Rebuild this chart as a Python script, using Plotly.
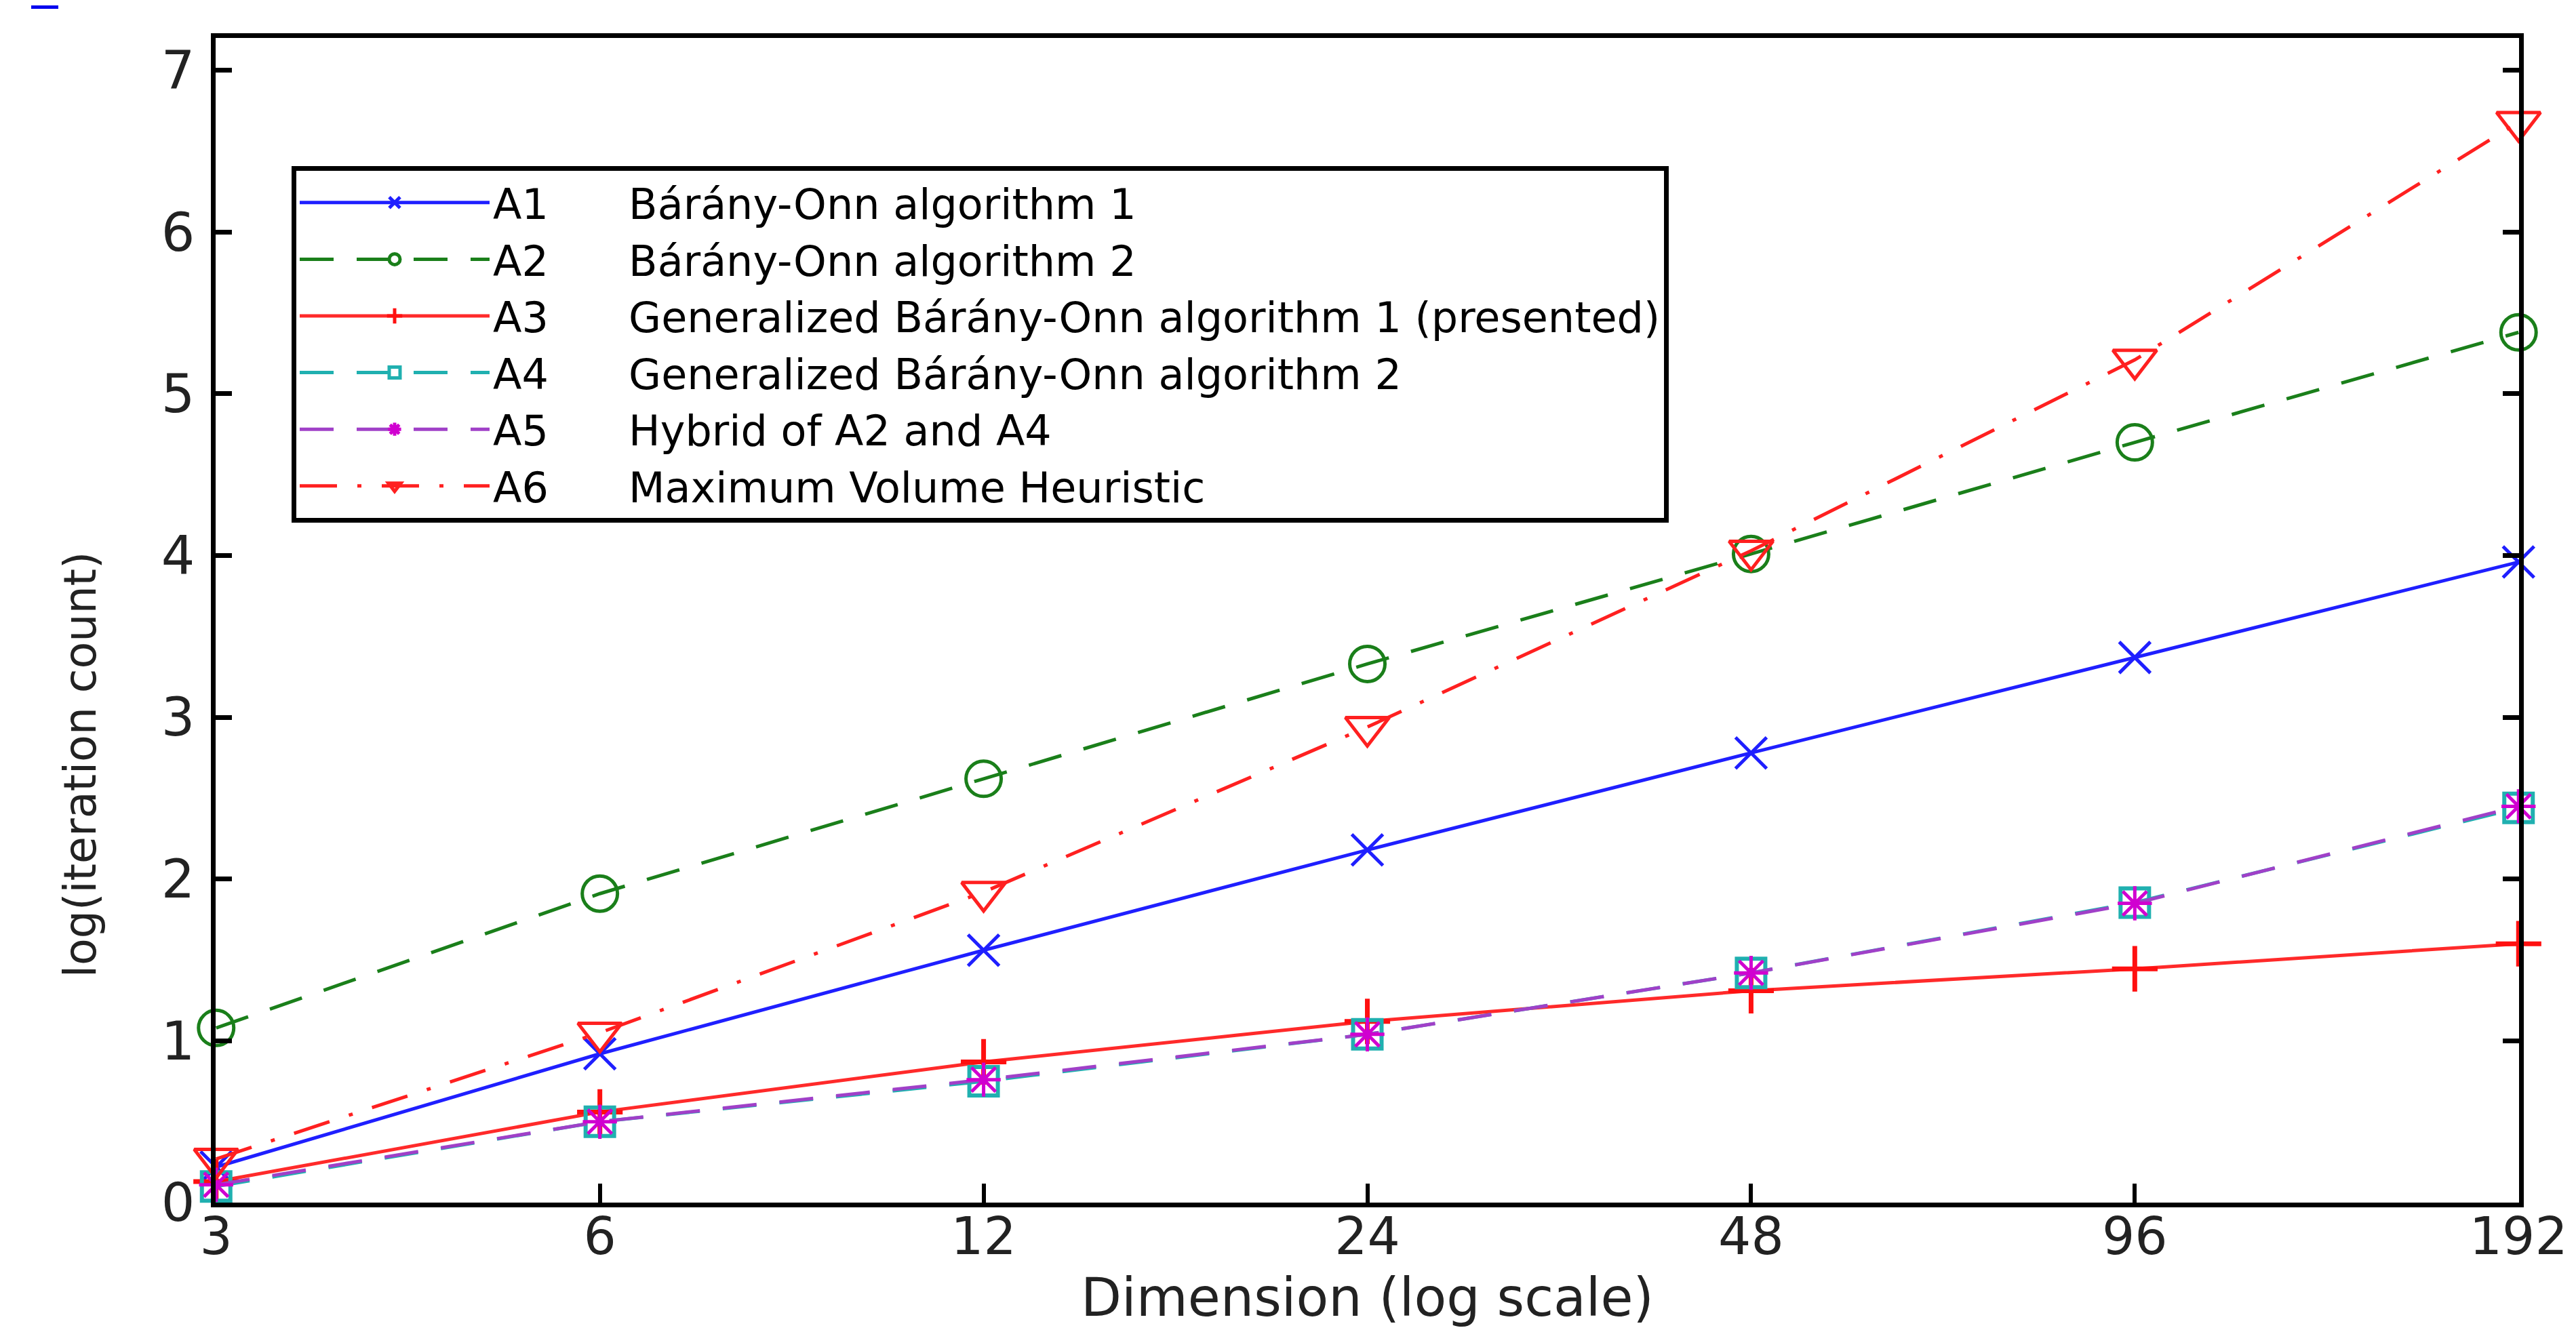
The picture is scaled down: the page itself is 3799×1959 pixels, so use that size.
import plotly.graph_objects as go
import math

# ---- data ----
dims = [3, 6, 12, 24, 48, 96, 192]
tick_labels = ["3", "6", "12", "24", "48", "96", "192"]
A1 = [0.22, 0.92, 1.56, 2.18, 2.78, 3.37, 3.96]
A2 = [1.08, 1.91, 2.62, 3.33, 4.01, 4.70, 5.38]
A3 = [0.13, 0.56, 0.87, 1.12, 1.31, 1.445, 1.60]
A4 = [0.10, 0.50, 0.75, 1.04, 1.42, 1.855, 2.44]
A5 = [0.11, 0.50, 0.76, 1.04, 1.42, 1.85, 2.45]
A6 = [0.27, 1.05, 1.92, 2.94, 4.03, 5.21, 6.68]
codes = ["A1", "A2", "A3", "A4", "A5", "A6"]
names = ["Bárány-Onn algorithm 1",
         "Bárány-Onn algorithm 2",
         "Generalized Bárány-Onn algorithm 1 (presented)",
         "Generalized Bárány-Onn algorithm 2",
         "Hybrid of A2 and A4",
         "Maximum Volume Heuristic"]
y_ticks = [0, 1, 2, 3, 4, 5, 6, 7]

FONT = "DejaVu Sans"
W, H = 3799, 1959
L, R, T, B = 310, 92, 48, 193
PW, PH = W - L - R, H - B - T

styles = [
    dict(color="#1f1fff", dash="solid", symbol="x-thin-open", size=46, mcolor="#1f1fff", mw=5),
    dict(color="#1a7f1a", dash="50px,34px", symbol="circle-open", size=52, mcolor="#1a7f1a", mw=5),
    dict(color="#ff2a2a", dash="solid", symbol="cross-thin-open", size=48, mcolor="#ff1010", mw=7),
    dict(color="#20b0b0", dash="50px,34px", symbol="square-open", size=42, mcolor="#20b0b0", mw=6),
    dict(color="#a040c8", dash="50px,34px", symbol="asterisk-open", size=42, mcolor="#d000d0", mw=5),
    dict(color="#ff2020", dash="55px,30px,6px,30px", symbol="triangle-down-open", size=56, mcolor="#ff2020", mw=5),
]
series = [A1, A2, A3, A4, A5, A6]

fig = go.Figure()
sp = "\u00a0" * 6
for code, nm, ys, st in zip(codes, names, series, styles):
    fig.add_trace(go.Scatter(
        x=dims, y=ys, mode="lines+markers",
        name=f"{code}{sp}{nm}",
        line=dict(color=st["color"], width=5, dash=st["dash"]),
        marker=dict(symbol=st["symbol"], size=st["size"],
                    color=st["mcolor"], line=dict(color=st["mcolor"], width=st["mw"])),
        cliponaxis=False,
    ))

fig.update_layout(
    width=W, height=H,
    margin=dict(l=L, r=R, t=T, b=B),
    paper_bgcolor="white", plot_bgcolor="white",
    font=dict(family=FONT, color="black", size=62),
    showlegend=True,
    legend=dict(
        x=(422 - L) / PW, y=(H - B - 237) / PH,
        xanchor="left", yanchor="top",
        bgcolor="white", bordercolor="black", borderwidth=7,
        font=dict(family=FONT, size=62, color="black"),
        itemwidth=280, itemsizing="trace", traceorder="normal",
    ),
    annotations=[
        dict(text="log(iteration count)", textangle=-90,
             x=(110 - L) / PW, y=(H - B - 1120) / PH,
             xref="paper", yref="paper", xanchor="center", yanchor="middle",
             showarrow=False, font=dict(family=FONT, size=65, color="#222")),
        dict(text="Dimension (log scale)",
             x=0.5, y=(H - B - 1906) / PH,
             xref="paper", yref="paper", xanchor="center", yanchor="middle",
             showarrow=False, font=dict(family=FONT, size=78, color="#222")),
    ],
)

eps = 0.0004
fig.update_xaxes(
    type="log", range=[math.log10(dims[0]) - eps, math.log10(dims[-1]) + eps],
    tickvals=dims, ticktext=tick_labels,
    ticks="inside", ticklen=28, tickwidth=6, tickcolor="black",
    showline=True, linewidth=7, linecolor="black", mirror=True,
    showgrid=False, zeroline=False,
    tickfont=dict(family=FONT, size=76, color="#222"),
    ticklabelstandoff=-22,
)
fig.update_yaxes(
    range=[0, 7.2], tickvals=y_ticks,
    ticks="inside", ticklen=24, tickwidth=7, tickcolor="black",
    showline=True, linewidth=7, linecolor="black", mirror="ticks",
    showgrid=False, zeroline=False,
    tickfont=dict(family=FONT, size=78, color="#222"),
    ticklabelstandoff=8,
)

fig.add_shape(type="rect", xref="paper", yref="paper",
              x0=(38 - L) / PW, x1=(78 - L) / PW,
              y0=(H - B - 0) / PH, y1=(H - B - 5) / PH,
              fillcolor="#0000ee", line=dict(width=0), layer="above")

fig.write_html("out.html")
